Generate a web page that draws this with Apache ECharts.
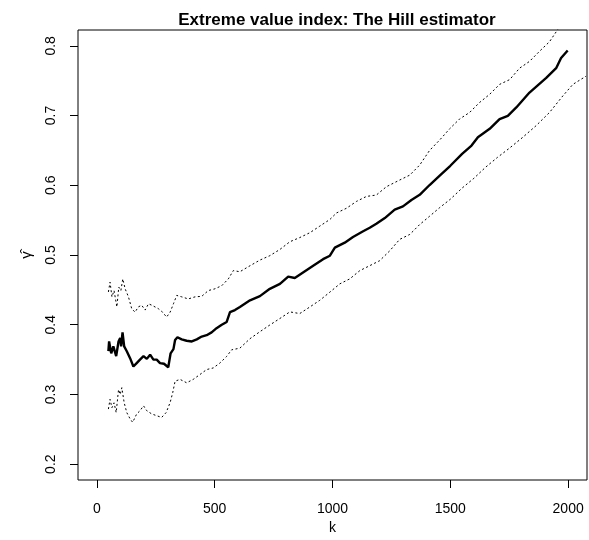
<!DOCTYPE html>
<html>
<head>
<meta charset="utf-8">
<script src="https://cdn.jsdelivr.net/npm/echarts@6/dist/echarts.min.js"></script>
<style>
  html, body { margin: 0; padding: 0; background: #fff; }
  #chart { width: 589px; height: 540px; }
</style>
</head>
<body>
<div id="chart"></div>
<script>
// Hill estimate of the extreme value index, by number of upper order statistics k
const kHill = [49, 52, 61, 70, 82, 92, 99, 103, 109, 116, 127, 141, 155, 169, 183, 198, 212, 226, 240, 254, 268, 285, 303, 313, 325, 332, 342, 360, 381, 403, 424, 445, 466, 487, 508, 530, 551, 565, 586, 607, 650, 692, 734, 777, 812, 840, 875, 918, 960, 989, 1010, 1052, 1087, 1130, 1158, 1186, 1222, 1264, 1299, 1335, 1370, 1412, 1455, 1500, 1550, 1590, 1617, 1667, 1709, 1744, 1780, 1836, 1907, 1949, 1970, 1998];
const gammaHill = [0.362, 0.376, 0.359, 0.369, 0.355, 0.376, 0.381, 0.369, 0.389, 0.369, 0.362, 0.352, 0.340, 0.345, 0.350, 0.355, 0.351, 0.357, 0.350, 0.350, 0.345, 0.344, 0.339, 0.359, 0.365, 0.378, 0.382, 0.379, 0.377, 0.376, 0.379, 0.383, 0.385, 0.389, 0.395, 0.400, 0.404, 0.418, 0.421, 0.4255, 0.435, 0.441, 0.4515, 0.4586, 0.469, 0.467, 0.475, 0.4846, 0.494, 0.499, 0.5106, 0.5177, 0.5258, 0.534, 0.539, 0.5447, 0.553, 0.565, 0.5698, 0.579, 0.5863, 0.6004, 0.614, 0.628, 0.645, 0.657, 0.669, 0.681, 0.695, 0.6997, 0.7116, 0.733, 0.754, 0.768, 0.7826, 0.7934];

// Upper confidence bound
const kUpper = [49, 56, 64, 73, 85, 93, 102, 110, 120, 134, 148, 162, 176, 190, 205, 219, 233, 247, 261, 279, 296, 311, 325, 339, 360, 388, 417, 445, 473, 501, 530, 558, 579, 607, 650, 692, 734, 777, 819, 861, 904, 946, 989, 1017, 1059, 1102, 1144, 1186, 1229, 1285, 1328, 1370, 1412, 1455, 1497, 1539, 1582, 1624, 1667, 1709, 1752, 1794, 1836, 1878, 1921, 1949, 1965];
const gammaUpper = [0.447, 0.461, 0.440, 0.449, 0.4255, 0.454, 0.449, 0.4657, 0.4515, 0.440, 0.423, 0.418, 0.4255, 0.428, 0.421, 0.430, 0.428, 0.4255, 0.423, 0.418, 0.411, 0.418, 0.430, 0.442, 0.440, 0.437, 0.440, 0.4407, 0.449, 0.4515, 0.456, 0.4657, 0.4776, 0.476, 0.4846, 0.4927, 0.499, 0.508, 0.519, 0.525, 0.532, 0.5414, 0.551, 0.5603, 0.567, 0.5769, 0.584, 0.586, 0.598, 0.6075, 0.6146, 0.629, 0.650, 0.665, 0.681, 0.695, 0.7045, 0.7187, 0.7305, 0.7447, 0.7516, 0.768, 0.7777, 0.792, 0.806, 0.820, 0.828];

// Lower confidence bound
const kLower = [49, 56, 64, 73, 82, 92, 99, 106, 116, 127, 141, 152, 169, 183, 198, 212, 233, 254, 275, 294, 311, 322, 332, 353, 381, 409, 438, 466, 494, 522, 551, 572, 607, 650, 692, 734, 777, 819, 861, 904, 946, 989, 1031, 1073, 1116, 1158, 1200, 1243, 1285, 1328, 1370, 1412, 1455, 1500, 1550, 1600, 1650, 1700, 1750, 1808, 1864, 1921, 1977, 2020, 2076];
const gammaLower = [0.279, 0.293, 0.281, 0.288, 0.274, 0.307, 0.300, 0.3097, 0.288, 0.274, 0.265, 0.260, 0.272, 0.2766, 0.2837, 0.2766, 0.272, 0.2695, 0.267, 0.274, 0.2884, 0.3026, 0.319, 0.3216, 0.3167, 0.3216, 0.3287, 0.3357, 0.338, 0.345, 0.3546, 0.364, 0.3664, 0.380, 0.390, 0.3996, 0.409, 0.4184, 0.416, 0.4255, 0.435, 0.4468, 0.4586, 0.4657, 0.4776, 0.4847, 0.4918, 0.506, 0.5224, 0.5295, 0.5437, 0.5556, 0.568, 0.580, 0.596, 0.610, 0.626, 0.640, 0.653, 0.669, 0.6855, 0.7045, 0.728, 0.7447, 0.7565];

// Tick labels
const xTicks = [0, 500, 1000, 1500, 2000];
const yTicks = [0.2, 0.3, 0.4, 0.5, 0.6, 0.7, 0.8];

const pairs = (xs, ys) => xs.map((x, i) => [x, ys[i]]);

const FONT = '"Liberation Sans", Arial, Helvetica, sans-serif';

const chart = echarts.init(document.getElementById('chart'), null, { renderer: 'canvas' });

chart.setOption({
  animation: false,
  backgroundColor: '#ffffff',
  title: {
    text: 'Extreme value index: The Hill estimator',
    left: 332,
    textAlign: 'center',
    top: 7,
    textStyle: { fontFamily: FONT, fontWeight: 'bold', fontSize: 17, color: '#000' }
  },
  grid: {
    left: 78, right: 2, top: 30, bottom: 55,
    show: true, borderColor: '#000', borderWidth: 1, backgroundColor: 'transparent'
  },
  xAxis: {
    type: 'value',
    min: -80, max: 2080,
    name: 'k',
    nameLocation: 'middle',
    nameGap: 41,
    nameTextStyle: { fontFamily: FONT, fontSize: 14, color: '#000' },
    axisLine: { show: false, onZero: false },
    splitLine: { show: false },
    axisTick: { show: true, length: 8, lineStyle: { color: '#000', width: 1 }, customValues: xTicks },
    axisLabel: { fontFamily: FONT, fontSize: 14, color: '#000', margin: 22, customValues: xTicks,
      formatter: v => String(v) }
  },
  yAxis: {
    type: 'value',
    min: 0.17727, max: 0.82273,
    name: 'γ̂',
    nameLocation: 'middle',
    nameRotate: 90,
    nameGap: 44,
    nameTextStyle: { fontFamily: FONT, fontSize: 15, color: '#000' },
    axisLine: { show: false, onZero: false },
    splitLine: { show: false },
    axisTick: { show: true, length: 8, lineStyle: { color: '#000', width: 1 }, customValues: yTicks },
    axisLabel: { fontFamily: FONT, fontSize: 14, color: '#000', margin: 20, rotate: 90,
      customValues: yTicks, formatter: v => v.toFixed(1) }
  },
  series: [
    {
      name: 'upper',
      type: 'line',
      data: pairs(kUpper, gammaUpper),
      showSymbol: false,
      clip: true,
      lineStyle: { color: '#000', width: 1, type: [2, 2.5] },
      z: 2
    },
    {
      name: 'lower',
      type: 'line',
      data: pairs(kLower, gammaLower),
      showSymbol: false,
      clip: true,
      lineStyle: { color: '#000', width: 1, type: [2, 2.5] },
      z: 2
    },
    {
      name: 'Hill',
      type: 'line',
      data: pairs(kHill, gammaHill),
      showSymbol: false,
      clip: true,
      lineStyle: { color: '#000', width: 2.4 },
      z: 3
    }
  ]
});
</script>
</body>
</html>
